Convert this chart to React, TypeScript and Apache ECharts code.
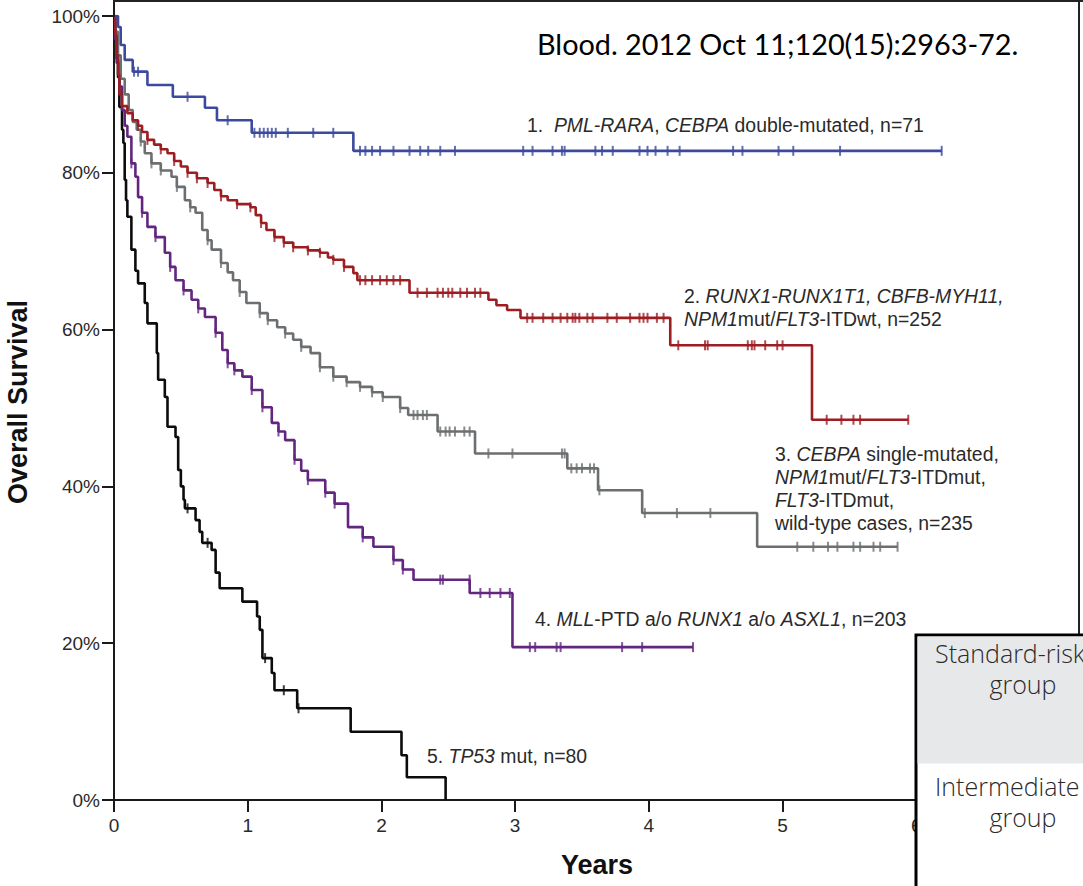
import React, { useEffect, useRef } from "react";
import * as echarts from "echarts";

// ---- Kaplan–Meier step points [years, survival %] ----
const group1Steps: number[][] = [
  [0, 100], [0.03, 98.6], [0.05, 96.3], [0.08, 94.4], [0.14, 92.9], [0.25, 91.2], [0.44, 89.7],
  [0.68, 88.3], [0.77, 86.7], [1.03, 85.1], [1.79, 82.8], [6.19, 82.8],
];
const group1Censor: number[][] = [
  [0.15, 92.9], [0.18, 92.9], [0.55, 89.7], [0.85, 86.7],
  [1.05, 85.1], [1.09, 85.1], [1.12, 85.1], [1.15, 85.1], [1.18, 85.1], [1.21, 85.1], [1.3, 85.1], [1.49, 85.1], [1.64, 85.1],
  [1.84, 82.8], [1.88, 82.8], [1.93, 82.8], [1.99, 82.8], [2.09, 82.8], [2.21, 82.8], [2.29, 82.8], [2.35, 82.8],
  [2.44, 82.8], [2.55, 82.8], [3.06, 82.8], [3.13, 82.8], [3.28, 82.8], [3.35, 82.8], [3.37, 82.8], [3.6, 82.8],
  [3.65, 82.8], [3.73, 82.8], [3.93, 82.8], [3.99, 82.8], [4.05, 82.8], [4.14, 82.8], [4.23, 82.8], [4.63, 82.8],
  [4.7, 82.8], [4.97, 82.8], [5.08, 82.8], [5.43, 82.8], [6.19, 82.8],
];

const group2Steps: number[][] = [
  [0, 100], [0.01, 97.5], [0.02, 95], [0.03, 92.5], [0.04, 90], [0.06, 88.5], [0.1, 87.6], [0.14, 86.7],
  [0.18, 86.0], [0.21, 85.2], [0.25, 84.2], [0.3, 83.6], [0.35, 83.0], [0.4, 82.5], [0.45, 81.5], [0.5, 80.8],
  [0.55, 80.0], [0.62, 79.3], [0.7, 78.7], [0.75, 77.8], [0.8, 77.0], [0.85, 76.5], [0.92, 76.0], [1.02, 75.6],
  [1.06, 74.6], [1.1, 73.6], [1.14, 72.7], [1.2, 71.8], [1.27, 71.1], [1.34, 70.5], [1.45, 70.1], [1.54, 69.8],
  [1.6, 69.2], [1.64, 68.9], [1.72, 68.0], [1.79, 67.2], [1.82, 66.3], [2.21, 64.7], [2.8, 63.8], [2.86, 63.1],
  [2.94, 62.5], [3.04, 61.5], [4.16, 58.0], [5.22, 48.5], [5.94, 48.5],
];
const group2Censor: number[][] = [
  [0.18, 86.0], [0.25, 84.2], [0.35, 83.0], [0.45, 81.5], [0.55, 80.0], [0.62, 79.3], [0.7, 78.7], [0.8, 77.0],
  [0.92, 76.0], [1.02, 75.6], [1.1, 73.6], [1.2, 71.8], [1.27, 71.1], [1.34, 70.5], [1.45, 70.1], [1.54, 69.8],
  [1.64, 68.9], [1.72, 68.0],
  [1.84, 66.3], [1.88, 66.3], [1.93, 66.3], [1.99, 66.3], [2.04, 66.3], [2.09, 66.3], [2.14, 66.3],
  [2.27, 64.7], [2.34, 64.7], [2.42, 64.7], [2.46, 64.7], [2.5, 64.7], [2.53, 64.7], [2.59, 64.7], [2.64, 64.7], [2.7, 64.7], [2.74, 64.7],
  [3.09, 61.5], [3.13, 61.5], [3.21, 61.5], [3.28, 61.5], [3.34, 61.5], [3.39, 61.5], [3.43, 61.5], [3.45, 61.5], [3.48, 61.5],
  [3.54, 61.5], [3.58, 61.5], [3.69, 61.5], [3.76, 61.5], [3.86, 61.5], [3.93, 61.5], [3.96, 61.5], [3.99, 61.5], [4.06, 61.5], [4.11, 61.5],
  [4.22, 58.0], [4.42, 58.0], [4.44, 58.0], [4.74, 58.0], [4.77, 58.0], [4.79, 58.0], [4.87, 58.0], [4.96, 58.0], [5.0, 58.0],
  [5.33, 48.5], [5.44, 48.5], [5.53, 48.5], [5.58, 48.5], [5.94, 48.5],
];

const group3Steps: number[][] = [
  [0, 100], [0.01, 98], [0.03, 95], [0.05, 92], [0.08, 90], [0.11, 88], [0.14, 86.5], [0.17, 85.5], [0.2, 84],
  [0.23, 82.5], [0.28, 81.2], [0.35, 80.3], [0.43, 79.5], [0.47, 78.2], [0.53, 76.5], [0.57, 75.6], [0.61, 74.9],
  [0.66, 72.7], [0.7, 71.4], [0.73, 70.2], [0.8, 68.5], [0.85, 67.3], [0.89, 66.3], [0.94, 64.8], [0.99, 63.4],
  [1.09, 62.1], [1.15, 61.2], [1.22, 60.3], [1.28, 59.5], [1.34, 58.7], [1.4, 57.8], [1.47, 57.0], [1.54, 55.2],
  [1.64, 54.0], [1.74, 53.3], [1.84, 52.7], [1.93, 52.0], [2.01, 51.4], [2.14, 50.0], [2.2, 49.1], [2.42, 47.0],
  [2.7, 44.2], [3.39, 42.3], [3.62, 39.5], [3.95, 36.6], [4.81, 32.3], [5.86, 32.3],
];
const group3Censor: number[][] = [
  [0.2, 84], [0.28, 81.2], [0.35, 80.3], [0.47, 78.2], [0.57, 75.6], [0.7, 71.4], [0.8, 68.5], [0.94, 64.8],
  [1.09, 62.1], [1.15, 61.2], [1.28, 59.5], [1.4, 57.8], [1.54, 55.2], [1.64, 54.0], [1.74, 53.3], [1.84, 52.7],
  [1.93, 52.0], [2.01, 51.4], [2.14, 50.0],
  [2.24, 49.1], [2.27, 49.1], [2.31, 49.1], [2.34, 49.1],
  [2.44, 47.0], [2.48, 47.0], [2.51, 47.0], [2.55, 47.0], [2.62, 47.0], [2.66, 47.0],
  [2.8, 44.2], [2.98, 44.2], [3.35, 44.2], [3.37, 44.2],
  [3.42, 42.3], [3.46, 42.3], [3.5, 42.3], [3.56, 42.3], [3.59, 42.3], [3.63, 39.5],
  [3.97, 36.6], [4.21, 36.6], [4.46, 36.6],
  [5.11, 32.3], [5.23, 32.3], [5.34, 32.3], [5.41, 32.3], [5.53, 32.3], [5.58, 32.3], [5.68, 32.3], [5.73, 32.3], [5.86, 32.3],
];

const group4Steps: number[][] = [
  [0, 100], [0.01, 97], [0.02, 94], [0.04, 91], [0.06, 88], [0.08, 86], [0.1, 84.6], [0.13, 81.2], [0.16, 79.5],
  [0.18, 76.9], [0.21, 74.9], [0.25, 73.1], [0.31, 71.8], [0.38, 69.8], [0.42, 68.0], [0.46, 66.3], [0.52, 65.0],
  [0.58, 63.8], [0.63, 62.7], [0.68, 61.6], [0.76, 59.6], [0.81, 57.4], [0.85, 55.7], [0.9, 54.8], [0.96, 54.0],
  [1.03, 52.3], [1.11, 50.1], [1.18, 48.1], [1.23, 47.0], [1.28, 45.9], [1.35, 43.4], [1.4, 42.0], [1.45, 40.8],
  [1.58, 39.2], [1.65, 37.8], [1.75, 34.8], [1.86, 33.5], [1.94, 32.3], [2.09, 30.6], [2.16, 29.4], [2.24, 28.1],
  [2.66, 26.4], [2.98, 19.5], [4.33, 19.5],
];
const group4Censor: number[][] = [
  [0.13, 81.2], [0.21, 74.9], [0.31, 71.8], [0.42, 68.0], [0.52, 65.0], [0.63, 62.7], [0.76, 59.6], [0.85, 55.7],
  [0.9, 54.8], [1.03, 52.3], [1.11, 50.1], [1.23, 47.0], [1.35, 43.4], [1.45, 40.8], [1.58, 39.2], [1.65, 37.8],
  [1.86, 33.5], [2.09, 30.6], [2.16, 29.4],
  [2.44, 28.1], [2.46, 28.1], [2.66, 28.1],
  [2.74, 26.4], [2.81, 26.4], [2.89, 26.4], [2.96, 26.4],
  [3.11, 19.5], [3.15, 19.5], [3.31, 19.5], [3.34, 19.5], [3.8, 19.5], [3.95, 19.5], [4.33, 19.5],
];

const group5Steps: number[][] = [
  [0, 100], [0.01, 97], [0.02, 94.5], [0.03, 92.2], [0.04, 88.4], [0.06, 85.5], [0.07, 83.8], [0.08, 79.1],
  [0.09, 76.5], [0.1, 74.4], [0.13, 70.2], [0.16, 67.5], [0.18, 65.9], [0.23, 63.4], [0.25, 60.8], [0.32, 57.0],
  [0.33, 53.6], [0.38, 51.4], [0.4, 47.6], [0.46, 46.3], [0.48, 42.1], [0.5, 40.0], [0.52, 38.3], [0.53, 37.2],
  [0.61, 35.7], [0.64, 34.2], [0.66, 32.8], [0.73, 31.9], [0.76, 29.0], [0.79, 27.0], [0.96, 25.3], [1.07, 23.4],
  [1.09, 21.7], [1.11, 18.1], [1.18, 16.2], [1.2, 14.0], [1.37, 11.7], [1.77, 8.7], [2.15, 5.7], [2.19, 2.9], [2.48, 0],
];
const group5Censor: number[][] = [
  [0.55, 37.2], [0.7, 32.8], [1.13, 18.1], [1.27, 14.0], [1.38, 11.7],
];

const yTickLabels = ["0%", "20%", "40%", "60%", "80%", "100%"];
const xTickLabels = ["0", "1", "2", "3", "4", "5", "6", ""];

const colors = ["#3c4a9e", "#9c1d22", "#6c6f71", "#63267f", "#0c0c0c"];
const stepsList = [group1Steps, group2Steps, group3Steps, group4Steps, group5Steps];
const censorList = [group1Censor, group2Censor, group3Censor, group4Censor, group5Censor];
const names = ["1", "2", "3", "4", "5"];

const annFont = "'Liberation Sans', Arial, Helvetica, sans-serif";
const annSize = 19.4;

function ann(x: number, yCenterFirst: number, text: string, lineHeight = 23) {
  return {
    type: "text",
    x,
    y: yCenterFirst - lineHeight / 2,
    z: 50,
    style: {
      text,
      fill: "#2a2a2a",
      fontSize: annSize,
      fontFamily: annFont,
      lineHeight,
      align: "left",
      verticalAlign: "top",
      textAlign: "left",
      textVerticalAlign: "top",
      rich: {
        i: { fontStyle: "italic", fontSize: annSize, fontFamily: annFont, fill: "#2a2a2a", lineHeight },
        n: { fontSize: annSize, fontFamily: annFont, fill: "#2a2a2a", lineHeight },
      },
    },
  };
}

const tableFont = "'Open Sans', 'Noto Sans', sans-serif";
function cellText(x: number, y: number, text: string, align: string) {
  return {
    type: "text", x, y, z: 95,
    style: {
      text, fill: "#2a2a2a", fontSize: 25, fontWeight: 300, fontFamily: tableFont,
      align, verticalAlign: "middle", textAlign: align, textVerticalAlign: "middle",
    },
  };
}

export default function App() {
  const ref = useRef<HTMLDivElement>(null);
  useEffect(() => {
    const chart = echarts.init(ref.current!, null, { renderer: "svg" });
    const series: any[] = [];
    stepsList.forEach((d, i) => {
      series.push({
        name: names[i],
        type: "line",
        step: "end",
        data: d,
        showSymbol: false,
        symbol: "none",
        lineStyle: { color: colors[i], width: 2.6 },
        z: 10 - i,
      });
      series.push({
        name: names[i] + "c",
        type: "scatter",
        data: censorList[i],
        symbol: "rect",
        symbolSize: [2, 10],
        itemStyle: { color: colors[i] },
        z: 10 - i,
      });
    });

    const graphic: any[] = [
      { type: "line", z: 40, shape: { x1: 114, y1: 0, x2: 114, y2: 17 }, style: { stroke: "#1a1a1a", lineWidth: 2 } },
      { type: "line", z: 40, shape: { x1: 113, y1: 1, x2: 1083, y2: 1 }, style: { stroke: "#222", lineWidth: 2 } },
      { type: "line", z: 40, shape: { x1: 1079, y1: 0, x2: 1079, y2: 636 }, style: { stroke: "#222", lineWidth: 2 } },
      {
        type: "text", x: 537, y: 44, z: 50,
        style: {
          text: "Blood. 2012 Oct 11;120(15):2963-72.", fill: "#000", fontSize: 28.8, fontFamily: "Lato, 'Open Sans', sans-serif",
          align: "left", verticalAlign: "middle", textAlign: "left", textVerticalAlign: "middle",
        },
      },
      ann(527, 125, "1.  {i|PML-RARA}, {i|CEBPA} double-mutated, n=71"),
      ann(684, 296, "2. {i|RUNX1-RUNX1T1, CBFB-MYH11,}\n{i|NPM1}mut/{i|FLT3}-ITDwt, n=252"),
      ann(775, 454, "3. {i|CEBPA} single-mutated,\n{i|NPM1}mut/{i|FLT3}-ITDmut,\n{i|FLT3}-ITDmut,\nwild-type cases, n=235"),
      ann(535, 619, "4. {i|MLL}-PTD a/o {i|RUNX1} a/o {i|ASXL1}, n=203"),
      ann(427, 756, "5. {i|TP53} mut, n=80"),
      {
        type: "text", x: 18, y: 402, z: 50, rotation: Math.PI / 2,
        style: {
          text: "Overall Survival", fill: "#111", fontSize: 27, fontWeight: "bold", fontFamily: annFont,
          align: "center", verticalAlign: "middle", textAlign: "center", textVerticalAlign: "middle",
        },
      },
      {
        type: "text", x: 597, y: 865, z: 50,
        style: {
          text: "Years", fill: "#111", fontSize: 27, fontWeight: "bold", fontFamily: annFont,
          align: "center", verticalAlign: "middle", textAlign: "center", textVerticalAlign: "middle",
        },
      },
      // table box overlay
      { type: "rect", z: 90, shape: { x: 916, y: 635, width: 240, height: 300 }, style: { fill: "#fff", stroke: "#000", lineWidth: 3 } },
      { type: "rect", z: 91, shape: { x: 917.5, y: 636.5, width: 200, height: 127 }, style: { fill: "#e7e8ea" } },
      cellText(935, 653, "Standard-risk", "left"),
      cellText(1023, 684, "group", "center"),
      cellText(935, 786, "Intermediate", "left"),
      cellText(1023, 817, "group", "center"),
    ];

    chart.setOption({
      animation: false,
      backgroundColor: "#fff",
      grid: { left: 114, right: 33, top: 16, bottom: 86, containLabel: false },
      xAxis: {
        type: "value",
        min: 0,
        max: 7,
        interval: 1,
        axisLine: { show: true, onZero: false, lineStyle: { color: "#1a1a1a", width: 2 } },
        axisTick: { show: true, length: 12, lineStyle: { color: "#1a1a1a", width: 2 } },
        axisLabel: {
          fontSize: 19, color: "#2a2a2a", margin: 16, fontFamily: annFont,
          formatter: (v: number) => xTickLabels[Math.round(v)] ?? "",
        },
        splitLine: { show: false },
      },
      yAxis: {
        type: "value",
        min: 0,
        max: 100,
        interval: 20,
        axisLine: { show: true, onZero: false, lineStyle: { color: "#1a1a1a", width: 2 } },
        axisTick: { show: true, length: 12, lineStyle: { color: "#1a1a1a", width: 2 } },
        axisLabel: {
          fontSize: 19, color: "#2a2a2a", margin: 14, fontFamily: annFont,
          formatter: (v: number) => yTickLabels[Math.round(v / 20)] ?? "",
        },
        splitLine: { show: false },
      },
      series,
      graphic,
    });
    return () => chart.dispose();
  }, []);
  return (
    <div
      ref={ref}
      style={{ position: "fixed", left: 0, top: 0, width: 1083, height: 886, background: "#fff" }}
    />
  );
}
